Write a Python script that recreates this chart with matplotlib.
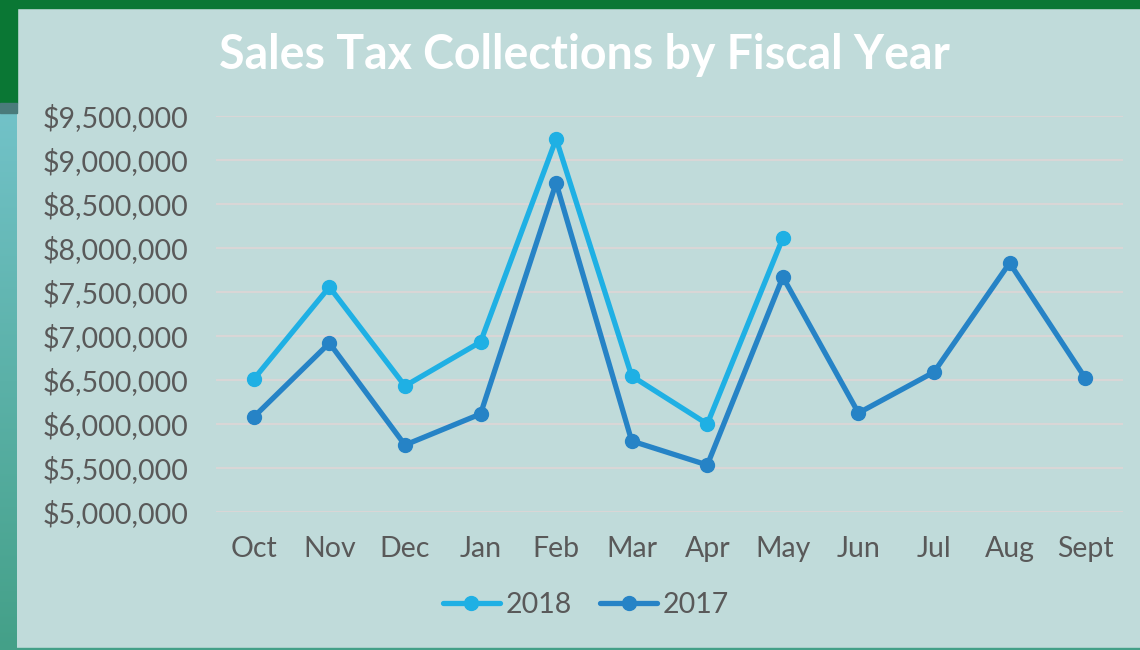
"""Sales tax collections by fiscal year, line chart"""

import matplotlib.pyplot as plt
import matplotlib.patches as mpatches
import numpy as np


# chart data
months = ["Oct", "Nov", "Dec", "Jan", "Feb", "Mar", "Apr", "May", "Jun", "Jul", "Aug", "Sept"]
sales_2018 = [6510000, 7557000, 6432000, 6932000, 9239000, 6545000, 6000000, 8114000]
sales_2017 = [6080000, 6920000, 5761000, 6114000, 8739000, 5807000, 5534000, 7670000,
              6125000, 6590000, 7830000, 6523000]
y_ticks = [5000000, 5500000, 6000000, 6500000, 7000000, 7500000, 8000000, 8500000, 9000000, 9500000]

color_2018 = "#1fb0e4"
color_2017 = "#2683c6"
text_color = "#595959"
panel_color = "#c0dbda"

plt.rcParams["font.family"] = ["Lato", "DejaVu Sans"]

fig = plt.figure(figsize=(11.4, 6.5), dpi=100)
fig.patch.set_facecolor(panel_color)

# slide decoration: green top bar, left strip with gradient, bottom line
fig.patches.append(mpatches.Rectangle((0, 1 - 8 / 650), 1, 8 / 650, transform=fig.transFigure,
                                      color="#0a7734", zorder=0))
fig.patches.append(mpatches.Rectangle((0, 1 - 103 / 650), 17 / 1140, 103 / 650,
                                      transform=fig.transFigure, color="#0a7734", zorder=0))
fig.patches.append(mpatches.Rectangle((0, 1 - 113 / 650), 17 / 1140, 10 / 650,
                                      transform=fig.transFigure, color="#4a7b7b", zorder=0))
fig.patches.append(mpatches.Rectangle((0, 0), 1, 2 / 650, transform=fig.transFigure,
                                      color="#44a088", zorder=0))
strip = fig.add_axes([0, 0, 17 / 1140, 1 - 113 / 650])
top_rgb = np.array([0x72, 0xc2, 0xc8]) / 255
bot_rgb = np.array([0x44, 0xa0, 0x88]) / 255
t = np.linspace(0, 1, 256)[:, None]
grad = (top_rgb * (1 - t) + bot_rgb * t)[:, None, :]
strip.imshow(grad, aspect="auto", extent=[0, 1, 0, 1])
strip.axis("off")

# main chart axes
ax = fig.add_axes([216 / 1140, 1 - 512 / 650, (1123 - 216) / 1140, (512 - 116) / 650])
ax.set_facecolor("none")

x = np.arange(len(months))
ax.plot(x[:len(sales_2018)], sales_2018, color=color_2018, lw=3.8, marker="o", ms=10,
        solid_capstyle="round", label="2018", zorder=3)
ax.plot(x, sales_2017, color=color_2017, lw=3.8, marker="o", ms=10,
        solid_capstyle="round", label="2017", zorder=4)

ax.set_xlim(-0.5, len(months) - 0.5)
ax.set_ylim(5000000, 9500000)
ax.set_yticks(y_ticks)
ax.set_yticklabels([f"${v:,.0f}" for v in y_ticks])
ax.set_xticks(x)
ax.set_xticklabels(months)
ax.tick_params(axis="both", length=0, labelsize=20.5, labelcolor=text_color)
ax.tick_params(axis="y", pad=20)
ax.tick_params(axis="x", pad=17)
ax.grid(axis="y", color="#d9d6d6", lw=1.5)
ax.set_axisbelow(True)
for s in ax.spines.values():
    s.set_visible(False)

fig.text(584 / 1140, 1 - 55 / 650, "Sales Tax Collections by Fiscal Year", color="white",
         fontsize=33.5, fontweight="bold", ha="center", va="center")

leg = fig.legend(loc="center", bbox_to_anchor=(586 / 1140, 1 - 605 / 650), ncol=2,
                 frameon=False, fontsize=20.5, handlelength=2.0, columnspacing=1.0,
                 handletextpad=0.2, labelcolor=text_color)

fig.savefig("out.png", dpi=100, facecolor=fig.get_facecolor())
